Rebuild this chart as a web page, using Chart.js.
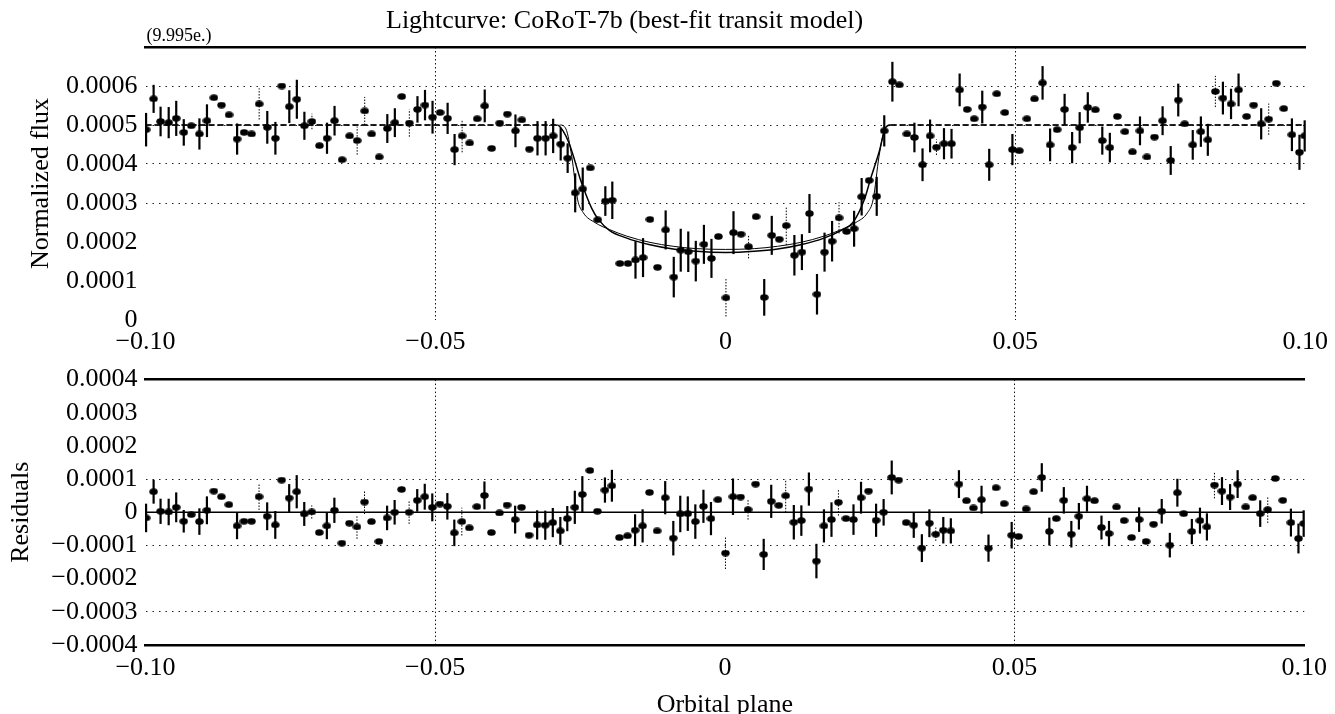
<!DOCTYPE html>
<html>
<head>
<meta charset="utf-8">
<title>Lightcurve: CoRoT-7b</title>
<script src="https://cdn.jsdelivr.net/npm/chart.js@4.4.1/dist/chart.umd.min.js"></script>
<style>
  html, body { margin: 0; padding: 0; background: #fff; overflow: hidden; }
  #wrap { position: relative; width: 1335px; height: 714px; }
  canvas { position: absolute; left: 0; }
  #fluxChart { top: 0; }
  #residChart { top: 356px; }
</style>
</head>
<body>
<div id="wrap">
  <canvas id="fluxChart" width="1335" height="362"></canvas>
  <canvas id="residChart" width="1335" height="376"></canvas>
</div>
<script>
// orbital phase of every measurement
const phase = [
  -0.0999, -0.0986, -0.0974, -0.0960, -0.0947, -0.0934, -0.0921, -0.0907, -0.0894, -0.0882,
  -0.0869, -0.0856, -0.0842, -0.0830, -0.0817, -0.0804, -0.0790, -0.0776, -0.0765, -0.0752,
  -0.0739, -0.0726, -0.0713, -0.0700, -0.0687, -0.0674, -0.0661, -0.0648, -0.0635, -0.0622,
  -0.0610, -0.0597, -0.0583, -0.0570, -0.0558, -0.0545, -0.0531, -0.0518, -0.0505, -0.0492,
  -0.0479, -0.0467, -0.0454, -0.0441, -0.0428, -0.0415, -0.0403, -0.0389, -0.0376, -0.0362,
  -0.0351, -0.0338, -0.0324, -0.0310, -0.0297, -0.0284, -0.0272, -0.0259, -0.0246, -0.0233,
  -0.0220, -0.0207, -0.0195, -0.0182, -0.0168, -0.0155, -0.0142, -0.0130, -0.0117, -0.0103,
  -0.0089, -0.0077, -0.0064, -0.0051, -0.0037, -0.0024, -0.0012, 0.0001, 0.0014, 0.0027,
  0.0040, 0.0053, 0.0067, 0.0080, 0.0093, 0.0105, 0.0119, 0.0132, 0.0145, 0.0158,
  0.0171, 0.0184, 0.0196, 0.0209, 0.0222, 0.0235, 0.0248, 0.0261, 0.0274, 0.0288,
  0.0300, 0.0313, 0.0326, 0.0340, 0.0353, 0.0364, 0.0377, 0.0390, 0.0404, 0.0417,
  0.0429, 0.0443, 0.0455, 0.0468, 0.0482, 0.0495, 0.0507, 0.0520, 0.0533, 0.0547,
  0.0560, 0.0572, 0.0585, 0.0598, 0.0611, 0.0625, 0.0638, 0.0650, 0.0663, 0.0676,
  0.0689, 0.0702, 0.0715, 0.0727, 0.0740, 0.0754, 0.0768, 0.0781, 0.0792, 0.0806,
  0.0820, 0.0832, 0.0845, 0.0858, 0.0872, 0.0885, 0.0899, 0.0911, 0.0924, 0.0937,
  0.0950, 0.0963, 0.0977, 0.0990, 0.0999
];

// normalized flux (upper panel)
const flux = [
  4.88e-4, 5.67e-4, 5.09e-4, 5.06e-4, 5.17e-4, 4.81e-4, 4.98e-4, 4.77e-4, 5.11e-4, 5.70e-4,
  5.51e-4, 5.26e-4, 4.64e-4, 4.81e-4, 4.77e-4, 5.54e-4, 4.94e-4, 4.66e-4, 6.00e-4, 5.47e-4,
  5.66e-4, 4.98e-4, 5.09e-4, 4.47e-4, 4.66e-4, 5.11e-4, 4.11e-4, 4.72e-4, 4.60e-4, 5.36e-4,
  4.77e-4, 4.18e-4, 4.91e-4, 5.06e-4, 5.73e-4, 5.05e-4, 5.40e-4, 5.51e-4, 5.20e-4, 5.32e-4,
  5.17e-4, 4.37e-4, 4.72e-4, 4.54e-4, 5.16e-4, 5.49e-4, 4.40e-4, 5.05e-4, 5.28e-4, 4.85e-4,
  5.13e-4, 4.38e-4, 4.66e-4, 4.66e-4, 4.72e-4, 4.51e-4, 4.15e-4, 3.26e-4, 3.36e-4, 3.90e-4,
  2.57e-4, 3.05e-4, 3.07e-4, 1.45e-4, 1.45e-4, 1.54e-4, 1.60e-4, 2.58e-4, 1.35e-4, 2.31e-4,
  1.10e-4, 1.79e-4, 1.75e-4, 1.51e-4, 1.94e-4, 1.58e-4, 2.14e-4, 0.57e-4, 2.24e-4, 2.20e-4,
  1.88e-4, 2.65e-4, 0.58e-4, 2.17e-4, 2.07e-4, 2.42e-4, 1.66e-4, 1.74e-4, 2.73e-4, 0.66e-4,
  1.74e-4, 2.02e-4, 2.62e-4, 2.27e-4, 2.34e-4, 3.16e-4, 3.58e-4, 3.17e-4, 4.85e-4, 6.11e-4,
  6.03e-4, 4.77e-4, 4.68e-4, 3.98e-4, 4.72e-4, 4.43e-4, 4.52e-4, 4.52e-4, 5.90e-4, 5.40e-4,
  5.16e-4, 5.46e-4, 3.98e-4, 5.80e-4, 5.32e-4, 4.37e-4, 4.34e-4, 5.16e-4, 5.67e-4, 6.08e-4,
  4.49e-4, 4.88e-4, 5.40e-4, 4.42e-4, 4.93e-4, 5.45e-4, 5.39e-4, 4.60e-4, 4.42e-4, 5.22e-4,
  4.83e-4, 4.31e-4, 4.85e-4, 4.18e-4, 4.69e-4, 5.11e-4, 4.09e-4, 5.64e-4, 5.03e-4, 4.49e-4,
  4.83e-4, 4.62e-4, 5.86e-4, 5.69e-4, 5.54e-4, 5.90e-4, 5.22e-4, 5.51e-4, 5.03e-4, 5.15e-4,
  6.07e-4, 5.42e-4, 4.75e-4, 4.30e-4, 4.72e-4
];

// residuals after subtracting the model (lower panel)
const residuals = [
  -0.17e-4, 0.62e-4, 0.03e-4, 0.01e-4, 0.15e-4, -0.27e-4, -0.07e-4, -0.28e-4, 0.06e-4, 0.64e-4,
  0.47e-4, 0.23e-4, -0.41e-4, -0.27e-4, -0.27e-4, 0.47e-4, -0.12e-4, -0.38e-4, 0.97e-4, 0.43e-4,
  0.62e-4, -0.05e-4, 0.01e-4, -0.61e-4, -0.41e-4, 0.06e-4, -0.93e-4, -0.33e-4, -0.44e-4, 0.31e-4,
  -0.28e-4, -0.88e-4, -0.17e-4, 0.00e-4, 0.69e-4, 0.00e-4, 0.36e-4, 0.47e-4, 0.15e-4, 0.25e-4,
  0.18e-4, -0.62e-4, -0.28e-4, -0.47e-4, 0.17e-4, 0.51e-4, -0.61e-4, -0.02e-4, 0.22e-4, -0.22e-4,
  0.15e-4, -0.69e-4, -0.38e-4, -0.39e-4, -0.31e-4, -0.56e-4, -0.19e-4, 0.15e-4, 0.54e-4, 1.26e-4,
  0.03e-4, 0.67e-4, 0.80e-4, -0.76e-4, -0.71e-4, -0.54e-4, -0.41e-4, 0.60e-4, -0.56e-4, 0.44e-4,
  -0.78e-4, -0.05e-4, -0.04e-4, -0.28e-4, 0.18e-4, -0.19e-4, 0.38e-4, -1.23e-4, 0.47e-4, 0.46e-4,
  0.08e-4, 0.85e-4, -1.27e-4, 0.33e-4, 0.21e-4, 0.50e-4, -0.30e-4, -0.25e-4, 0.70e-4, -1.47e-4,
  -0.41e-4, -0.22e-4, 0.30e-4, -0.19e-4, -0.22e-4, 0.44e-4, 0.64e-4, -0.24e-4, 0.00e-4, 1.05e-4,
  0.97e-4, -0.31e-4, -0.39e-4, -1.08e-4, -0.33e-4, -0.66e-4, -0.54e-4, -0.56e-4, 0.85e-4, 0.35e-4,
  0.13e-4, 0.38e-4, -1.08e-4, 0.74e-4, 0.26e-4, -0.69e-4, -0.73e-4, 0.10e-4, 0.62e-4, 1.05e-4,
  -0.58e-4, -0.19e-4, 0.36e-4, -0.66e-4, -0.12e-4, 0.41e-4, 0.35e-4, -0.46e-4, -0.64e-4, 0.16e-4,
  -0.25e-4, -0.76e-4, -0.22e-4, -0.88e-4, -0.36e-4, 0.03e-4, -0.99e-4, 0.59e-4, -0.04e-4, -0.58e-4,
  -0.25e-4, -0.44e-4, 0.82e-4, 0.64e-4, 0.46e-4, 0.85e-4, 0.16e-4, 0.44e-4, -0.04e-4, 0.08e-4,
  1.02e-4, 0.36e-4, -0.31e-4, -0.79e-4, -0.34e-4
];

// half-length of each error bar (0 = no bar drawn)
const fluxErr = [
  0.43e-4, 0.36e-4, 0.38e-4, 0.40e-4, 0.45e-4, 0.34e-4, 0, 0.40e-4, 0.42e-4, 0,
  0, 0, 0.40e-4, 0, 0, 0.40e-4, 0.42e-4, 0.42e-4, 0, 0.42e-4,
  0.50e-4, 0.36e-4, 0.20e-4, 0, 0.40e-4, 0.38e-4, 0, 0, 0.36e-4, 0.36e-4,
  0, 0, 0.37e-4, 0.37e-4, 0, 0.35e-4, 0.34e-4, 0.39e-4, 0.42e-4, 0,
  0.40e-4, 0.40e-4, 0.42e-4, 0, 0, 0.42e-4, 0, 0, 0, 0.42e-4,
  0, 0, 0.44e-4, 0.44e-4, 0.44e-4, 0.42e-4, 0.38e-4, 0.50e-4, 0.55e-4, 0,
  0, 0.38e-4, 0.48e-4, 0, 0, 0.48e-4, 0.50e-4, 0, 0, 0.50e-4,
  0.52e-4, 0.55e-4, 0.52e-4, 0.52e-4, 0.50e-4, 0.50e-4, 0, 0.48e-4, 0.55e-4, 0,
  0.30e-4, 0, 0.47e-4, 0.50e-4, 0, 0.50e-4, 0.52e-4, 0.46e-4, 0.50e-4, 0.52e-4,
  0.50e-4, 0.52e-4, 0.40e-4, 0, 0.46e-4, 0.48e-4, 0, 0.50e-4, 0.40e-4, 0.51e-4,
  0, 0, 0.38e-4, 0.42e-4, 0.42e-4, 0.20e-4, 0.40e-4, 0.38e-4, 0.42e-4, 0,
  0, 0.42e-4, 0.41e-4, 0, 0, 0.40e-4, 0, 0, 0, 0.43e-4,
  0.42e-4, 0, 0.40e-4, 0.40e-4, 0.40e-4, 0.39e-4, 0, 0.36e-4, 0.38e-4, 0,
  0, 0, 0.37e-4, 0, 0, 0.37e-4, 0.37e-4, 0.42e-4, 0, 0.38e-4,
  0.39e-4, 0.41e-4, 0.40e-4, 0.42e-4, 0.39e-4, 0.42e-4, 0, 0, 0.40e-4, 0.40e-4,
  0, 0, 0.42e-4, 0.45e-4, 0.40e-4
];
// measurements whose error bar is drawn dotted
const dottedBars = [15, 22, 28, 29, 35, 42, 77, 80, 85, 92, 105, 142, 149];

// best-fit transit models
const modelAPhase = [-0.1, -0.029, -0.028, -0.027, -0.026, -0.025, -0.024, -0.023, -0.022, -0.020,
  -0.017, -0.013, -0.009, -0.005, 0, 0.005, 0.009, 0.013, 0.017, 0.020, 0.022, 0.024, 0.025,
  0.0265, 0.0277, 0.0285, 0.1];
const modelAFlux = [5e-4, 5e-4, 4.85e-4, 4.55e-4, 4.1e-4, 3.6e-4, 3.2e-4, 2.85e-4, 2.6e-4, 2.3e-4,
  2.1e-4, 1.93e-4, 1.82e-4, 1.76e-4, 1.73e-4, 1.76e-4, 1.82e-4, 1.93e-4, 2.1e-4, 2.3e-4, 2.5e-4,
  3.1e-4, 3.6e-4, 4.3e-4, 4.95e-4, 5e-4, 5e-4];
const modelBPhase = [-0.1, -0.0285, -0.0275, -0.0265, -0.0255, -0.0245, -0.0225, -0.020, -0.017,
  -0.013, -0.009, -0.005, 0, 0.005, 0.009, 0.013, 0.017, 0.020, 0.0225, 0.0245, 0.0255, 0.0265,
  0.0275, 0.0285, 0.1];
const modelBFlux = [5e-4, 5e-4, 4.9e-4, 4.2e-4, 3.1e-4, 2.75e-4, 2.5e-4, 2.32e-4, 2.15e-4, 1.99e-4,
  1.89e-4, 1.83e-4, 1.81e-4, 1.83e-4, 1.89e-4, 1.99e-4, 2.15e-4, 2.32e-4, 2.5e-4, 2.75e-4, 3.1e-4,
  4.2e-4, 4.9e-4, 5e-4, 5e-4];
const baselineFlux = 5e-4;
const residModelPhase = [-0.1, 0.1];
const residModelValue = [0, 0];

// axes
const xTicks = [-0.1, -0.05, 0, 0.05, 0.1];
const xTickLabels = ['\u22120.10', '\u22120.05', '0', '0.05', '0.10'];
const fluxTicks = [0, 1e-4, 2e-4, 3e-4, 4e-4, 5e-4, 6e-4];
const fluxTickLabels = ['0', '0.0001', '0.0002', '0.0003', '0.0004', '0.0005', '0.0006'];
const residTicks = [-4e-4, -3e-4, -2e-4, -1e-4, 0, 1e-4, 2e-4, 3e-4, 4e-4];
const residTickLabels = ['\u22120.0004', '\u22120.0003', '\u22120.0002', '\u22120.0001', '0',
  '0.0001', '0.0002', '0.0003', '0.0004'];

const chartTitle = 'Lightcurve: CoRoT-7b (best-fit transit model)';
const scaleNote = '(9.995e.)';

const FONT = '"Liberation Serif", "Times New Roman", serif';
Chart.defaults.font.family = FONT;
Chart.defaults.font.size = 26;
Chart.defaults.color = '#000';

const toPoints = (xv, yv) => xv.map((x, i) => ({x: x, y: yv[i]}));
const near = (a, b) => Math.abs(a - b) < 1e-12;

// slightly flattened black dot, like the printed markers
const dot = document.createElement('canvas');
dot.width = 9;
dot.height = 7;
(function () {
  const g = dot.getContext('2d');
  g.fillStyle = '#000';
  g.beginPath();
  g.ellipse(4.5, 3.5, 4.2, 3.2, 0, 0, 2 * Math.PI);
  g.fill();
})();

// vertical error bars, drawn under the dots
const errorBars = {
  id: 'errorBars',
  beforeDatasetsDraw(chart) {
    const {ctx, scales: {x, y}} = chart;
    chart.data.datasets.forEach(ds => {
      if (!ds.errors) return;
      ds.data.forEach((p, i) => {
        const e = ds.errors[i];
        if (!e) return;
        const px = x.getPixelForValue(p.x);
        ctx.save();
        ctx.strokeStyle = '#000';
        if (dottedBars.includes(i)) {
          ctx.lineWidth = 1;
          ctx.setLineDash([1.5, 1.5]);
        } else {
          ctx.lineWidth = 2.2;
        }
        ctx.beginPath();
        ctx.moveTo(px, y.getPixelForValue(p.y - e));
        ctx.lineTo(px, y.getPixelForValue(p.y + e));
        ctx.stroke();
        ctx.restore();
      });
    });
  }
};

// title and scale note above the upper panel
const captions = {
  id: 'captions',
  afterDraw(chart) {
    const ctx = chart.ctx;
    ctx.save();
    ctx.fillStyle = '#000';
    ctx.textBaseline = 'alphabetic';
    ctx.font = '26px ' + FONT;
    ctx.fillText(chartTitle, 386, 28);
    ctx.font = '18px ' + FONT;
    ctx.fillText(scaleNote, chart.chartArea.left + 1, 41);
    ctx.restore();
  }
};

function xScale(height, padding, extra) {
  return Object.assign({
    type: 'linear',
    min: -0.1,
    max: 0.1,
    afterBuildTicks: s => { s.ticks = xTicks.map(v => ({value: v})); },
    afterFit: s => { s.height = height; },
    ticks: {callback: (v, i) => xTickLabels[i], autoSkip: false, maxRotation: 0, padding: padding},
    grid: {
      drawTicks: false,
      lineWidth: 1,
      color: c => (c.tick && near(Math.abs(c.tick.value), 0.05)) ? '#111' : 'rgba(0,0,0,0)'
    },
    border: {display: false, dash: [1.5, 2.5]}
  }, extra || {});
}

const topFrame = {
  type: 'linear',
  position: 'top',
  min: -0.1,
  max: 0.1,
  afterFit: s => { s.height = 0; },
  ticks: {display: false},
  grid: {display: false, drawTicks: false},
  border: {display: true, width: 2.5, color: '#000'}
};

function yScale(min, max, ticks, labels, showGrid, title, titlePad) {
  return {
    min: min,
    max: max,
    afterBuildTicks: s => { s.ticks = ticks.map(v => ({value: v})); },
    afterFit: s => { s.width = 145.5; },
    ticks: {callback: (v, i) => labels[i], autoSkip: false, padding: 8},
    grid: {
      drawTicks: false,
      lineWidth: 1,
      color: c => (c.tick && showGrid.some(g => near(g, c.tick.value))) ? '#222' : 'rgba(0,0,0,0)'
    },
    border: {display: false, dash: [1.5, 5]},
    title: {display: true, text: title, padding: {top: titlePad, bottom: 0}}
  };
}

const baselineDash = s =>
  (near(s.p0.parsed.y, baselineFlux) && near(s.p1.parsed.y, baselineFlux)) ? [6, 3] : undefined;

const pointStyleOpts = {
  pointStyle: dot,
  pointRadius: 4,
  pointBackgroundColor: '#000',
  pointBorderWidth: 0
};

new Chart(document.getElementById('fluxChart'), {
  type: 'scatter',
  data: {
    datasets: [
      Object.assign({data: toPoints(phase, flux), errors: fluxErr}, pointStyleOpts),
      {
        data: toPoints(modelAPhase, modelAFlux),
        showLine: true,
        borderColor: '#000',
        borderWidth: 1.5,
        pointRadius: 0,
        cubicInterpolationMode: 'monotone',
        segment: {borderDash: baselineDash}
      },
      {
        data: toPoints(modelBPhase, modelBFlux),
        showLine: true,
        borderColor: '#000',
        borderWidth: 1,
        pointRadius: 0,
        cubicInterpolationMode: 'monotone',
        segment: {borderDash: baselineDash}
      }
    ]
  },
  options: {
    responsive: false,
    animation: false,
    layout: {padding: {top: 47, right: 28.5, bottom: 0, left: 0}},
    plugins: {legend: {display: false}, tooltip: {enabled: false}},
    scales: {
      x: xScale(42, 7),
      xTop: topFrame,
      y: yScale(0, 7e-4, fluxTicks, fluxTickLabels, [3e-4, 4e-4, 5e-4, 6e-4], 'Normalized flux', 26)
    }
  },
  plugins: [errorBars, captions]
});

new Chart(document.getElementById('residChart'), {
  type: 'scatter',
  data: {
    datasets: [
      Object.assign({data: toPoints(phase, residuals), errors: fluxErr}, pointStyleOpts),
      {
        data: toPoints(residModelPhase, residModelValue),
        showLine: true,
        borderColor: '#000',
        borderWidth: 1.5,
        pointRadius: 0
      }
    ]
  },
  options: {
    responsive: false,
    animation: false,
    layout: {padding: {top: 18, right: 28.5, bottom: 0, left: 0}},
    plugins: {legend: {display: false}, tooltip: {enabled: false}},
    scales: {
      x: xScale(87, 8, {
        border: {display: true, width: 2.5, color: '#000', dash: [1.5, 2.5]},
        title: {display: true, text: 'Orbital plane', padding: {top: 0, bottom: 11}}
      }),
      xTop: topFrame,
      y: yScale(-4e-4, 4e-4, residTicks, residTickLabels, [1e-4, -1e-4, -3e-4], 'Residuals', 6)
    }
  },
  plugins: [errorBars]
});
</script>
</body>
</html>
